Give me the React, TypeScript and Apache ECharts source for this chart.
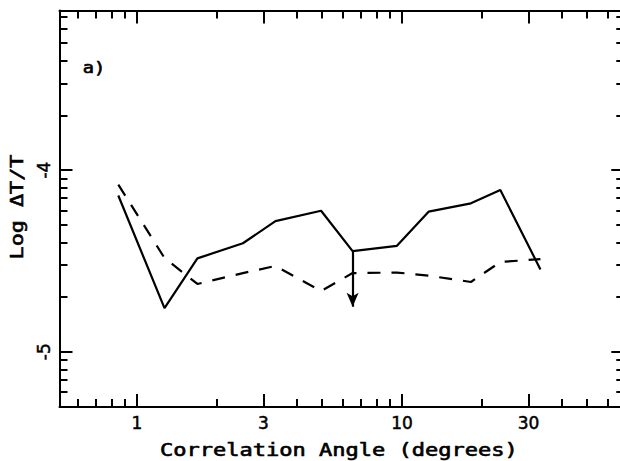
import React, { useEffect, useRef } from "react";
import * as echarts from "echarts";

// Correlation angle (degrees) of each measurement
const angles = [0.85, 1.27, 1.69, 2.51, 3.33, 4.95, 6.51, 9.57, 12.6, 18.2, 23.5, 33.3];
// Log ΔT/T, solid curve
const solidLog = [-4.14, -4.76, -4.486, -4.403, -4.281, -4.224, -4.446, -4.417, -4.229, -4.183, -4.11, -4.547];
// Log ΔT/T, dashed curve
const dashedLog = [-4.08, -4.484, -4.627, -4.567, -4.528, -4.666, -4.567, -4.564, -4.581, -4.616, -4.506, -4.49];
// upper-limit arrow
const limitAngle = 6.51;
const limitFrom = -4.446;
const limitTo = -4.752;

const xMajorTicks = [1, 3, 10, 30];
const xMinorTicks = [0.6, 0.7, 0.8, 0.9, 2, 4, 5, 6, 7, 8, 9, 20, 40, 50, 60];
const yMajorTicks = [-5, -4];
const yMinorTickValues = [
  6e-6, 7e-6, 8e-6, 9e-6,
  2e-5, 3e-5, 4e-5, 5e-5, 6e-5, 7e-5, 8e-5, 9e-5,
  2e-4, 3e-4, 4e-4, 5e-4, 6e-4, 7e-4,
];

const xTitle = "Correlation Angle (degrees)";
const yTitle = "Log ΔT/T";
const panelLabel = "a)";

export default function App() {
  const ref = useRef<HTMLDivElement>(null);
  useEffect(() => {
    if (!ref.current) return;
    const chart = echarts.init(ref.current, undefined, { renderer: "svg" });
    const black = "#000";
    const xBase = {
      type: "log" as const,
      logBase: 10,
      min: 0.51,
      max: 69,
      gridIndex: 0,
      splitLine: { show: false },
      minorTick: { show: false },
      axisLine: { show: false, onZero: false, lineStyle: { color: black, width: 2 } },
    };
    const yBase = {
      type: "value" as const,
      min: -5.304,
      max: -3.122,
      gridIndex: 0,
      splitLine: { show: false },
      minorTick: { show: false },
      axisLine: { show: false, onZero: false, lineStyle: { color: black, width: 2 } },
    };
    const yMinor = yMinorTickValues.map((v) => Math.log10(v));
    const tickStyle = { color: black, width: 2 };
    const labelFont = {
      fontSize: 17,
      fontFamily: "DejaVu Sans",
      color: black,
      textBorderColor: black,
      textBorderWidth: 0.5,
    };
    const titleStyle = {
      font: "17px 'DejaVu Sans Mono'",
      fill: black,
      stroke: black,
      lineWidth: 0.6,
      textAlign: "center",
      textVerticalAlign: "middle",
    };
    const option: any = {
      animation: false,
      backgroundColor: "#fff",
      grid: { left: 59.5, right: -4.3, top: 10.5, bottom: 54, outerBoundsMode: "none", containLabel: false },
      xAxis: [
        {
          ...xBase,
          position: "bottom",
          axisLine: { ...xBase.axisLine, show: true },
          axisTick: { show: true, inside: true, length: 13, customValues: xMajorTicks, lineStyle: tickStyle },
          axisLabel: {
            show: true,
            customValues: xMajorTicks,
            ...labelFont,
            margin: 7,
            formatter: (v: number) => String(v),
          },
        },
        {
          ...xBase,
          position: "bottom",
          axisTick: { show: true, inside: true, length: 8, customValues: xMinorTicks, lineStyle: tickStyle },
          axisLabel: { show: false },
        },
        {
          ...xBase,
          position: "top",
          axisLine: { ...xBase.axisLine, show: true },
          axisTick: { show: true, inside: true, length: 13, customValues: xMajorTicks, lineStyle: tickStyle },
          axisLabel: { show: false },
        },
        {
          ...xBase,
          position: "top",
          axisTick: { show: true, inside: true, length: 8, customValues: xMinorTicks, lineStyle: tickStyle },
          axisLabel: { show: false },
        },
      ],
      yAxis: [
        {
          ...yBase,
          position: "left",
          axisLine: { ...yBase.axisLine, show: true },
          axisTick: { show: true, inside: true, length: 13, customValues: yMajorTicks, lineStyle: tickStyle },
          axisLabel: {
            show: true,
            customValues: yMajorTicks,
            rotate: 90,
            ...labelFont,
            margin: 7,
          },
        },
        {
          ...yBase,
          position: "left",
          axisTick: { show: true, inside: true, length: 8, customValues: yMinor, lineStyle: tickStyle },
          axisLabel: { show: false },
        },
        {
          ...yBase,
          position: "right",
          axisLine: { ...yBase.axisLine, show: true },
          axisTick: { show: true, inside: true, length: 13, customValues: yMajorTicks, lineStyle: tickStyle },
          axisLabel: { show: false },
        },
        {
          ...yBase,
          position: "right",
          axisTick: { show: true, inside: true, length: 8, customValues: yMinor, lineStyle: tickStyle },
          axisLabel: { show: false },
        },
      ],
      series: [
        {
          type: "line",
          xAxisIndex: 0,
          yAxisIndex: 0,
          data: angles.map((a, i) => [a, solidLog[i]]),
          showSymbol: false,
          symbol: "none",
          lineStyle: { color: black, width: 2.2 },
          silent: true,
          markLine: {
            silent: true,
            symbol: ["none", "arrow"],
            symbolSize: 12,
            label: { show: false },
            lineStyle: { color: black, width: 2.2, type: "solid" },
            itemStyle: { color: black },
            emphasis: { disabled: true },
            data: [
              [
                { coord: [limitAngle, limitFrom], symbol: "none" },
                { coord: [limitAngle, limitTo], symbol: "arrow", symbolSize: [9, 14] },
              ],
            ],
          },
        },
        {
          type: "line",
          xAxisIndex: 0,
          yAxisIndex: 0,
          data: angles.map((a, i) => [a, dashedLog[i]]),
          showSymbol: false,
          symbol: "none",
          lineStyle: { color: black, width: 2.2, type: [13, 11] },
          silent: true,
        },
      ],
      graphic: [
        {
          type: "text",
          x: 94,
          y: 68,
          scaleX: 1.25,
          style: { ...titleStyle, text: panelLabel, font: "15px 'DejaVu Sans Mono'" },
        },
        {
          type: "text",
          x: 339,
          y: 450,
          scaleX: 1.296,
          style: { ...titleStyle, text: xTitle },
        },
        {
          type: "text",
          x: 17,
          y: 207,
          rotation: Math.PI / 2,
          scaleX: 1.28,
          style: { ...titleStyle, text: yTitle },
        },
      ],
    };
    chart.setOption(option);
    return () => chart.dispose();
  }, []);
  return (
    <div
      ref={ref}
      style={{ position: "fixed", left: 0, top: 0, width: 620, height: 461, background: "#fff" }}
    />
  );
}
